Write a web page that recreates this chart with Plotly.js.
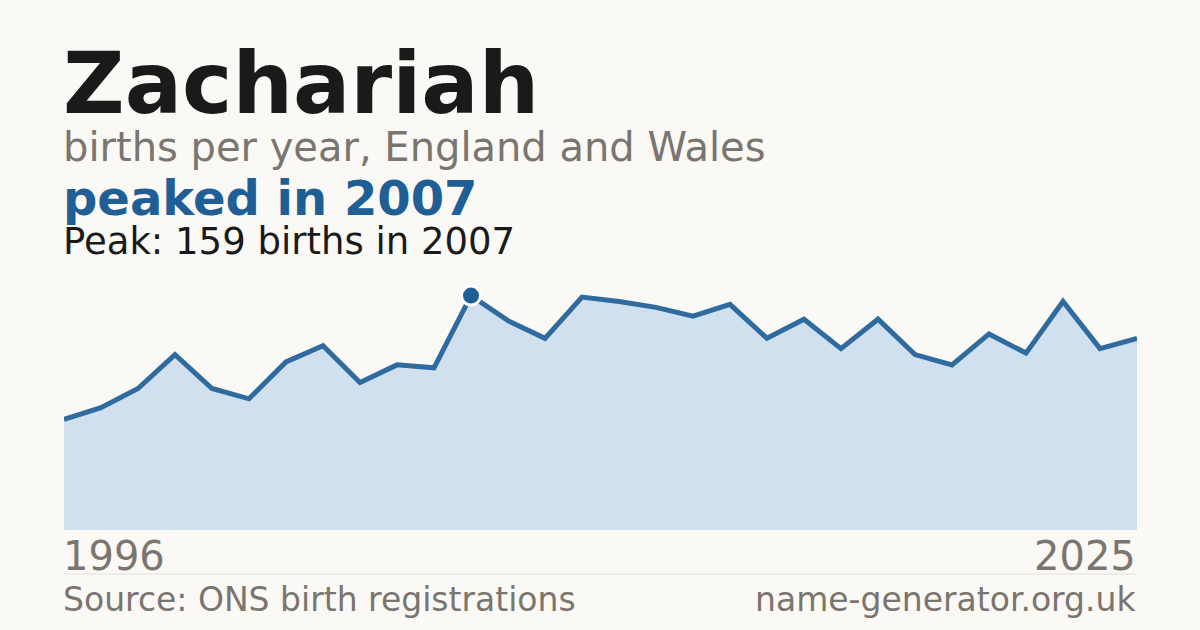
<!DOCTYPE html>
<html>
<head>
<meta charset="utf-8">
<script src="https://cdn.plot.ly/plotly-3.0.1.min.js"></script>
<style>
  html, body { margin: 0; padding: 0; background: #faf9f5; }
  #chart { width: 1200px; height: 630px; }
</style>
</head>
<body>
<div id="chart"></div>
<script>
// births per year
const years = [1996, 1997, 1998, 1999, 2000, 2001, 2002, 2003, 2004, 2005,
               2006, 2007, 2008, 2009, 2010, 2011, 2012, 2013, 2014, 2015,
               2016, 2017, 2018, 2019, 2020, 2021, 2022, 2023, 2024, 2025];
const births = [75, 83, 96, 119, 96, 89, 114, 125, 100, 112,
                110, 159, 142, 130, 158, 155, 151, 145, 153, 130,
                143, 123, 143, 119, 112, 133, 120, 155, 123, 130];
const nameLabel = 'Zachariah';
const subtitle = 'births per year, England and Wales';
const headline = 'peaked in 2007';
const peakLine = 'Peak: 159 births in 2007';
const sourceLabel = 'Source: ONS birth registrations';
const siteLabel = 'name-generator.org.uk';

const FONT = 'DejaVu Sans, Verdana, sans-serif';
const W = 1200, H = 630;
const M = { l: 64, r: 63, t: 272, b: 100 };
const plotH = H - M.t - M.b;

// pixel y -> paper y
const py = (px) => (H - M.b - px) / plotH;

const peakIdx = births.indexOf(Math.max(...births));

function textAnn(text, x, xanchor, bottomPx, size, color, bold) {
    return {
        text: bold ? '<b>' + text + '</b>' : text,
        xref: 'paper', yref: 'paper',
        x: x, y: py(bottomPx),
        xanchor: xanchor, yanchor: 'bottom',
        xshift: xanchor === 'left' ? -3 : 1,
        showarrow: false,
        font: { family: FONT, size: size, color: color }
    };
}

const traces = [
    {
        x: years, y: births,
        type: 'scatter', mode: 'lines',
        fill: 'tozeroy', fillcolor: '#d0e0ef',
        line: { color: '#2f6b9e', width: 5 },
        hoverinfo: 'skip'
    },
    {
        x: [years[peakIdx]], y: [births[peakIdx]],
        type: 'scatter', mode: 'markers',
        marker: { color: '#1f5f96', size: 19, line: { color: '#ffffff', width: 3 } },
        cliponaxis: false,
        hoverinfo: 'skip'
    }
];

const layout = {
    width: W, height: H,
    margin: M,
    paper_bgcolor: '#faf9f5', plot_bgcolor: '#faf9f5',
    showlegend: false,
    xaxis: { range: [years[0], years[years.length - 1]], visible: false, fixedrange: true },
    yaxis: { range: [0, 175], visible: false, fixedrange: true },
    shapes: [{
        type: 'line', xref: 'paper', yref: 'paper',
        x0: 0, x1: 1, y0: py(574), y1: py(574),
        line: { color: '#e2dfd8', width: 1 }
    }],
    annotations: [
        textAnn(nameLabel, 0, 'left', 135, 85, '#1a1a1a', true),
        textAnn(subtitle, 0, 'left', 172, 40, '#7a756f', false),
        textAnn(headline, 0, 'left', 228, 48, '#1f5f96', true),
        textAnn(peakLine, 0, 'left', 265, 37, '#1a1a1a', false),
        textAnn(String(years[0]), 0, 'left', 581, 40, '#7a756f', false),
        textAnn(String(years[years.length - 1]), 1, 'right', 581, 40, '#7a756f', false),
        textAnn(sourceLabel, 0, 'left', 621, 33, '#7a756f', false),
        textAnn(siteLabel, 1, 'right', 621, 33, '#7a756f', false)
    ]
};

Plotly.newPlot('chart', traces, layout, { displayModeBar: false, staticPlot: true });
</script>
</body>
</html>
